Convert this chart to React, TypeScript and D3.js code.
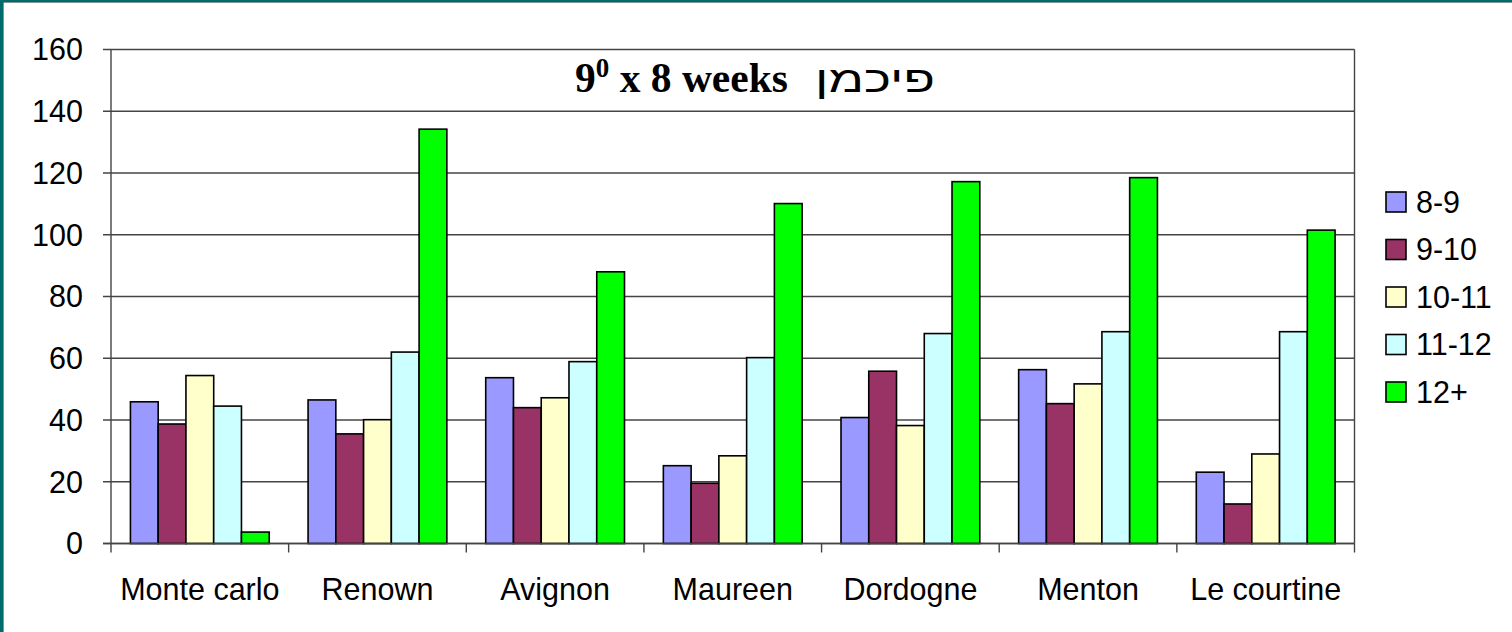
import React from "react";
import * as d3 from "d3";

const categories = ["Monte carlo", "Renown", "Avignon", "Maureen", "Dordogne", "Menton", "Le courtine"];
const seriesNames = ["8-9", "9-10", "10-11", "11-12", "12+"];
const seriesColors = ["#9999FF", "#993366", "#FFFFCC", "#CCFFFF", "#00FF00"];
const s89 = [45.9, 46.5, 53.7, 25.2, 40.8, 56.3, 23.1];
const s910 = [38.7, 35.5, 44.0, 19.5, 55.8, 45.3, 12.8];
const s1011 = [54.4, 40.1, 47.2, 28.4, 38.2, 51.7, 29.0];
const s1112 = [44.5, 62.0, 58.9, 60.2, 68.0, 68.6, 68.6];
const s12p = [3.7, 134.2, 88.0, 110.1, 117.2, 118.5, 101.5];
const seriesValues = [s89, s910, s1011, s1112, s12p];
const yTicks = [0, 20, 40, 60, 80, 100, 120, 140, 160];

const W = 1512;
const H = 632;
const plot = { left: 111, right: 1354.5, top: 49.5, bottom: 543.5 };

export default function App() {
  const y = d3.scaleLinear().domain([0, 160]).range([plot.bottom, plot.top]);
  const x0 = d3.scaleBand<string>().domain(categories).range([plot.left, plot.right]).paddingInner(0).paddingOuter(0);
  // Excel gap width 140%: band = 5w + 1.4w
  const barW = x0.bandwidth() / 6.4;
  const gap = 0.7 * barW;
  const x1 = d3.scaleBand<string>().domain(seriesNames).range([gap, gap + 5 * barW]).padding(0);

  const catEdges = categories.map((c) => x0(c)!).concat([plot.right]);
  const font = "'Liberation Sans', Arial, sans-serif";
  const fs = 30.5;

  return (
    <svg width={W} height={H} style={{ position: "absolute", left: 0, top: 0, background: "#fff" }}>
      <rect x={0} y={0} width={W} height={H} fill="#ffffff" />
      {/* teal frame */}
      <rect x={0} y={0} width={3} height={H} fill="#006B6B" />
      <rect x={0} y={0} width={W} height={2} fill="#006B6B" />
      <line x1={3.5} y1={2} x2={3.5} y2={H} stroke="#2f4f4f" strokeWidth={1} opacity={0.6} />
      <line x1={3} y1={2.5} x2={W} y2={2.5} stroke="#2f4f4f" strokeWidth={1} opacity={0.6} />

      {/* gridlines and y ticks */}
      {yTicks.map((t) => (
        <g key={t}>
          <line x1={plot.left - 8} x2={plot.right} y1={y(t)} y2={y(t)} stroke="#444" strokeWidth={1.4} />
          <text x={83} y={y(t) + 10.8} textAnchor="end" fontFamily={font} fontSize={fs} fill="#000">
            {t}
          </text>
        </g>
      ))}
      {/* y axis */}
      <line x1={plot.left} x2={plot.left} y1={plot.top} y2={plot.bottom} stroke="#444" strokeWidth={1.4} />
      {/* right edge */}
      <line x1={plot.right} x2={plot.right} y1={plot.top} y2={plot.bottom} stroke="#444" strokeWidth={1.4} />

      {/* bars */}
      {seriesValues.map((vals, si) =>
        categories.map((c, ci) => {
          const bx = x0(c)! + x1(seriesNames[si])!;
          const by = y(vals[ci]);
          return (
            <rect
              key={si + "-" + ci}
              x={bx}
              y={by}
              width={x1.bandwidth()}
              height={y(0) - by}
              fill={seriesColors[si]}
              stroke="#000"
              strokeWidth={1.6}
            />
          );
        })
      )}

      {/* x axis */}
      <line x1={plot.left - 8} x2={plot.right} y1={plot.bottom} y2={plot.bottom} stroke="#444" strokeWidth={1.4} />
      {catEdges.map((e, i) => (
        <line key={i} x1={e} x2={e} y1={plot.bottom} y2={plot.bottom + 9} stroke="#444" strokeWidth={1.4} />
      ))}
      {categories.map((c) => (
        <text key={c} x={x0(c)! + x0.bandwidth() / 2} y={600} textAnchor="middle" fontFamily={font} fontSize={fs} fill="#000">
          {c}
        </text>
      ))}

      {/* title */}
      <text x={575} y={92} fontFamily="'Liberation Serif', 'Times New Roman', serif" fontWeight="bold" fontSize={41.5} fill="#000">
        9<tspan fontSize={27} dy={-15}>0</tspan>
        <tspan dy={15}> x 8 weeks</tspan>
      </text>
      <text x={935} y={92} textAnchor="end" fontFamily={font} fontSize={37} textLength={120} lengthAdjust="spacingAndGlyphs" fill="#000">
        פיכמן
      </text>

      {/* legend */}
      {seriesNames.map((s, i) => (
        <g key={s} transform={`translate(1386, ${192 + i * 47.5})`}>
          <rect x={0} y={0} width={20} height={20} fill={seriesColors[i]} stroke="#000" strokeWidth={1.6} />
          <text x={30} y={20.5} fontFamily={font} fontSize={fs} fill="#000">
            {s}
          </text>
        </g>
      ))}
    </svg>
  );
}
